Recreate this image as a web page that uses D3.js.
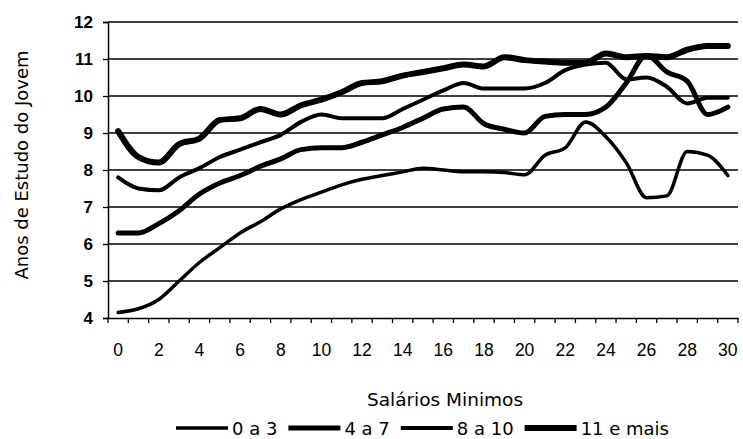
<!DOCTYPE html>
<html>
<head>
<meta charset="utf-8">
<script src="https://cdn.jsdelivr.net/npm/d3@7"></script>
<style>
  html, body { margin: 0; padding: 0; background: #fff; }
  svg { display: block; font-family: 'DejaVu Sans', sans-serif; }
</style>
</head>
<body>
<div class="graphic"></div>
<script>
// salarios minimos 0..30
const categories = [0, 1, 2, 3, 4, 5, 6, 7, 8, 9, 10, 11, 12, 13, 14, 15,
  16, 17, 18, 19, 20, 21, 22, 23, 24, 25, 26, 27, 28, 29, 30];
const xTickLabels = [0, 2, 4, 6, 8, 10, 12, 14, 16, 18, 20, 22, 24, 26, 28, 30];
const yTicks = [4, 5, 6, 7, 8, 9, 10, 11, 12];

const seriesNames = ['0 a 3', '4 a 7', '8 a 10', '11 e mais'];
const s0a3 = [4.15, 4.25, 4.5, 5.0, 5.5, 5.9, 6.3, 6.6, 6.95, 7.2, 7.4, 7.6, 7.75, 7.85, 7.95, 8.05,
  8.0, 7.95, 7.95, 7.93, 7.87, 8.4, 8.6, 9.3, 8.9, 8.2, 7.25, 7.3, 8.5, 8.4, 7.85];
const s4a7 = [6.3, 6.3, 6.55, 6.9, 7.35, 7.65, 7.85, 8.1, 8.3, 8.55, 8.6, 8.6, 8.75, 8.95, 9.15, 9.4,
  9.65, 9.7, 9.25, 9.1, 9.0, 9.45, 9.5, 9.5, 9.7, 10.35, 11.1, 10.65, 10.4, 9.5, 9.7];
const s8a10 = [7.8, 7.5, 7.45, 7.8, 8.05, 8.35, 8.55, 8.75, 8.95, 9.3, 9.5, 9.4, 9.4, 9.4, 9.65, 9.9,
  10.15, 10.35, 10.2, 10.2, 10.2, 10.35, 10.7, 10.85, 10.9, 10.45, 10.5, 10.25, 9.8, 9.95, 9.95];
const s11emais = [9.05, 8.35, 8.2, 8.7, 8.85, 9.35, 9.4, 9.65, 9.5, 9.75, 9.9, 10.1, 10.35, 10.4, 10.55, 10.65,
  10.75, 10.85, 10.8, 11.05, 10.97, 10.93, 10.9, 10.9, 11.15, 11.05, 11.08, 11.05, 11.25, 11.35, 11.35];

const seriesValues = [s0a3, s4a7, s8a10, s11emais];
const lineWidths = [3.5, 5, 4, 6];

const width = 743, height = 439;
const margin = {top: 22, right: 5, bottom: 121, left: 108};

const svg = d3.select('.graphic')
  .append('svg')
  .attr('width', width)
  .attr('height', height);

svg.append('rect')
  .attr('width', width)
  .attr('height', height)
  .style('fill', '#fff');

const x = d3.scaleBand()
  .domain(categories)
  .range([margin.left, width - margin.right]);

const y = d3.scaleLinear()
  .domain([4, 12])
  .range([height - margin.bottom, margin.top]);

const cx = d => x(d) + x.bandwidth() / 2;

// gridlines
svg.append('g')
  .selectAll('line')
  .data(yTicks.slice(1))
  .enter().append('line')
  .attr('x1', margin.left)
  .attr('x2', width - margin.right)
  .attr('y1', d => y(d))
  .attr('y2', d => y(d))
  .style('stroke', '#000')
  .style('stroke-width', 1.3);

// y axis
const yAxis = svg.append('g')
  .attr('transform', 'translate(' + margin.left + ',0)')
  .call(d3.axisLeft(y).tickValues(yTicks).tickSize(5).tickPadding(10));
yAxis.select('.domain').style('stroke', '#000').style('stroke-width', 1.5);
yAxis.selectAll('.tick line').style('stroke', '#000').style('stroke-width', 1.3);
yAxis.selectAll('text')
  .style('font-size', '17px')
  .style('font-weight', 'bold')
  .style('fill', '#000');

// x axis
const xAxis = svg.append('g')
  .attr('transform', 'translate(0,' + y(4) + ')')
  .call(d3.axisBottom(x).tickValues(xTickLabels).tickSize(0).tickPadding(26));
xAxis.select('.domain').style('stroke', '#000').style('stroke-width', 1.5);
xAxis.selectAll('text')
  .style('font-size', '17.5px')
  .style('fill', '#000');

// tick marks between categories
svg.append('g')
  .selectAll('line')
  .data(categories.concat([categories.length]))
  .enter().append('line')
  .attr('x1', (d, i) => margin.left + i * x.step())
  .attr('x2', (d, i) => margin.left + i * x.step())
  .attr('y1', y(4))
  .attr('y2', y(4) + 5)
  .style('stroke', '#000')
  .style('stroke-width', 1.3);

// lines
const line = d3.line()
  .x((d, i) => cx(categories[i]))
  .y(d => y(d))
  .curve(d3.curveMonotoneX);

svg.append('g')
  .selectAll('path')
  .data(seriesValues)
  .enter().append('path')
  .attr('d', line)
  .style('fill', 'none')
  .style('stroke', '#000')
  .style('stroke-width', (d, i) => lineWidths[i])
  .style('stroke-linejoin', 'round')
  .style('stroke-linecap', 'round');

// axis titles
svg.append('text')
  .attr('transform', 'translate(22,165) rotate(-90)')
  .attr('text-anchor', 'middle')
  .attr('dy', '0.35em')
  .style('font-size', '18px')
  .text('Anos de Estudo do Jovem');

svg.append('text')
  .attr('x', 445)
  .attr('y', 406)
  .attr('text-anchor', 'middle')
  .style('font-size', '18.5px')
  .text('Salários Minimos');

// legend
const legend = svg.append('g').attr('class', 'legend');
let lx = 176;
seriesNames.forEach(function (name, i) {
  legend.append('line')
    .attr('x1', lx)
    .attr('x2', lx + 52)
    .attr('y1', 428)
    .attr('y2', 428)
    .style('stroke', '#000')
    .style('stroke-width', lineWidths[i]);
  const t = legend.append('text')
    .attr('x', lx + 56)
    .attr('y', 434.5)
    .style('font-size', '18px')
    .text(name);
  lx = lx + 56 + t.node().getComputedTextLength() + 11;
});
</script>
</body>
</html>
